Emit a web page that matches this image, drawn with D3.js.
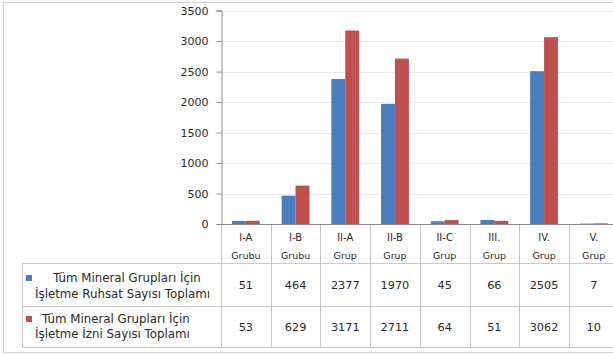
<!DOCTYPE html>
<html>
<head>
<meta charset="utf-8">
<script src="https://cdn.jsdelivr.net/npm/d3@7"></script>
<style>
  html, body { margin: 0; padding: 0; background: #fff; }
  svg { display: block; }
  text { font-family: "DejaVu Sans", sans-serif; fill: #2a2a2a; }
</style>
</head>
<body>
<svg id="chart" width="613" height="355"></svg>
<script>
// Mineral group categories (two-line labels in the data table header)
const categories = ["I-A Grubu", "I-B Grubu", "II-A Grup", "II-B Grup", "II-C Grup", "III. Grup", "IV. Grup", "V. Grup"];
// Series names
const seriesNames = [
  ["Tüm Mineral Grupları İçin", "İşletme Ruhsat Sayısı Toplamı"],
  ["Tüm Mineral Grupları İçin", "İşletme İzni Sayısı Toplamı"]
];
// Series values
const ruhsatValues = [51, 464, 2377, 1970, 45, 66, 2505, 7];
const izinValues = [53, 629, 3171, 2711, 64, 51, 3062, 10];
// Y axis ticks
const yTicks = [0, 500, 1000, 1500, 2000, 2500, 3000, 3500];

const seriesColors = ["#4a7ebf", "#c0504d"];
const series = [ruhsatValues, izinValues];

const svg = d3.select("#chart");
const W = 613, H = 355;

// Layout
const plotLeft = 221, plotRight = 618.6, plotTop = 10.5, plotBottom = 224;
const tableLeft = 22.5, rowLines = [263.5, 306.5, 347.5];

svg.append("rect").attr("width", W).attr("height", H).attr("fill", "#fff");

// Outer chart border
svg.append("rect")
  .attr("x", 3.5).attr("y", 2.5).attr("width", 620).attr("height", 350)
  .attr("fill", "none").attr("stroke", "#cfcfcf");

const x = d3.scaleBand().domain(categories).range([plotLeft, plotRight]).paddingInner(0).paddingOuter(0);
const bw = x.bandwidth();
const x1 = d3.scaleBand().domain([0, 1]).range([bw * 0.22, bw * 0.78]).padding(0);
const y = d3.scaleLinear().domain([0, 3500]).range([plotBottom, plotTop]);

// Gridlines
svg.append("g").selectAll("line").data(yTicks.filter(d => d > 0)).join("line")
  .attr("x1", plotLeft).attr("x2", plotRight)
  .attr("y1", d => Math.round(y(d)) + 0.5).attr("y2", d => Math.round(y(d)) + 0.5)
  .attr("stroke", "#e9e9e9");

// Bars
const barG = svg.append("g");
series.forEach((vals, si) => {
  barG.selectAll(null).data(vals).join("rect")
    .attr("x", (d, i) => x(categories[i]) + x1(si))
    .attr("width", x1.bandwidth())
    .attr("y", d => y(d))
    .attr("height", d => plotBottom - y(d))
    .attr("fill", seriesColors[si]);
});

// Y axis
const yAxis = svg.append("g")
  .attr("transform", `translate(${plotLeft + 0.5},0)`)
  .call(d3.axisLeft(y).tickValues(yTicks).tickSize(5).tickPadding(8).tickFormat(d3.format("d")));
yAxis.select(".domain").attr("stroke", "#8a8a8a");
yAxis.selectAll(".tick line").attr("stroke", "#8a8a8a");
yAxis.selectAll(".tick text").style("font-size", "11px").attr("fill", "#2a2a2a");

// Category axis line
svg.append("line")
  .attr("x1", plotLeft).attr("x2", plotRight)
  .attr("y1", plotBottom + 0.5).attr("y2", plotBottom + 0.5)
  .attr("stroke", "#8a8a8a");

// Data table grid
const grid = svg.append("g").attr("stroke", "#c9c9c9").attr("fill", "none");
const bounds = categories.map(c => x(c)).concat([plotRight]);
grid.selectAll("line.v").data(bounds).join("line")
  .attr("x1", d => Math.round(d) + 0.5).attr("x2", d => Math.round(d) + 0.5)
  .attr("y1", plotBottom + 1).attr("y2", rowLines[2]);
grid.selectAll("line.h").data(rowLines).join("line")
  .attr("x1", tableLeft).attr("x2", plotRight)
  .attr("y1", d => d).attr("y2", d => d);
grid.append("line")
  .attr("x1", tableLeft).attr("x2", tableLeft)
  .attr("y1", rowLines[0]).attr("y2", rowLines[2]);

// Header labels
const header = svg.append("g");
categories.forEach(c => {
  const parts = c.split(" ");
  header.append("text")
    .attr("x", x(c) + bw / 2).attr("y", 241)
    .attr("text-anchor", "middle").style("font-size", "10px").text(parts[0]);
  header.append("text")
    .attr("x", x(c) + bw / 2).attr("y", 258.5)
    .attr("text-anchor", "middle").style("font-size", "9.5px").text(parts[1]);
});

// Value rows
const rowMid = [(rowLines[0] + rowLines[1]) / 2, (rowLines[1] + rowLines[2]) / 2];
series.forEach((vals, si) => {
  svg.append("g").selectAll("text").data(vals).join("text")
    .attr("x", (d, i) => x(categories[i]) + bw / 2)
    .attr("y", rowMid[si] + 4)
    .attr("text-anchor", "middle")
    .style("font-size", "11.3px")
    .text(d => d);
});

// Legend keys and series names
const legendLineX = [[53, 35], [42, 35]];
const legendLineY = [[281.5, 297.5], [322.5, 337.5]];
seriesNames.forEach((lines, si) => {
  svg.append("rect")
    .attr("x", 26).attr("y", legendLineY[si][0] - 6.5)
    .attr("width", 6).attr("height", 6)
    .attr("fill", seriesColors[si]);
  lines.forEach((ln, li) => {
    svg.append("text")
      .attr("x", legendLineX[si][li]).attr("y", legendLineY[si][li])
      .style("font-size", "11.8px")
      .text(ln);
  });
});
</script>
</body>
</html>
